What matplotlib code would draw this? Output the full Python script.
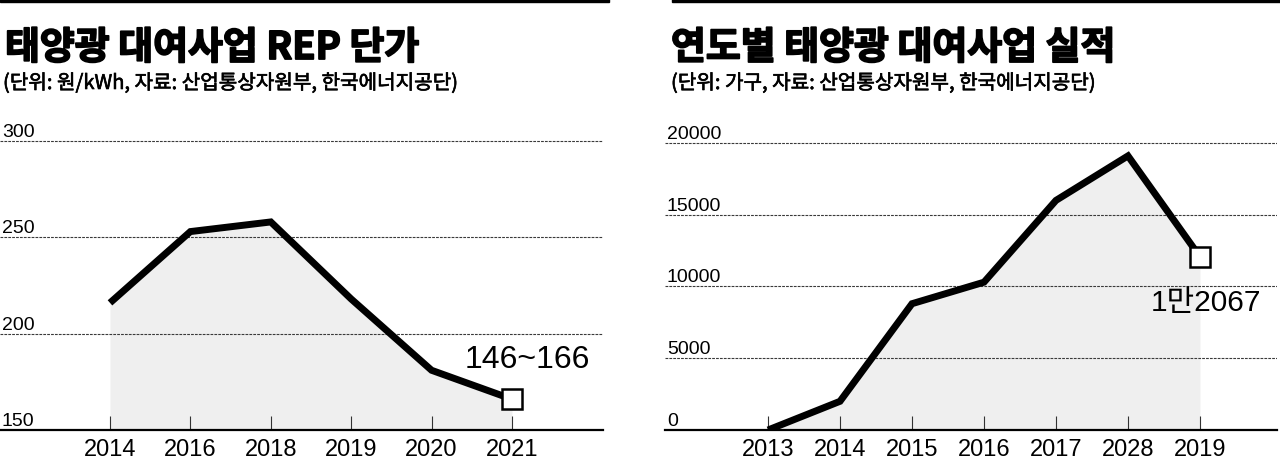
import matplotlib
matplotlib.use("Agg")
import matplotlib.pyplot as plt
import matplotlib.font_manager as fm
import matplotlib.patheffects as pe
from matplotlib.patches import Rectangle
from matplotlib.transforms import blended_transform_factory

# ---------------- data ----------------
rep_years = ['2014', '2016', '2018', '2019', '2020', '2021']
rep_values = [216, 253, 258, 218, 181, 166]
rep_yticks = [150, 200, 250, 300]
rep_label = '146~166'

rent_years = ['2013', '2014', '2015', '2016', '2017', '2028', '2019']
rent_values = [0, 2000, 8800, 10300, 16000, 19100, 12067]
rent_yticks = [0, 5000, 10000, 15000, 20000]
rent_label = '1만2067'

title_left = '태양광 대여사업 REP 단가'
sub_left = '(단위: 원/kWh, 자료: 산업통상자원부, 한국에너지공단)'
title_right = '연도별 태양광 대여사업 실적'
sub_right = '(단위: 가구, 자료: 산업통상자원부, 한국에너지공단)'

# ---------------- fonts ----------------
names = {f.name for f in fm.fontManager.ttflist}
NARROW = 'Liberation Sans Narrow' if 'Liberation Sans Narrow' in names else 'Liberation Sans'
REG = 'Liberation Sans'
CJK = 'Noto Sans CJK KR'
plt.rcParams['font.family'] = [REG, CJK, 'DejaVu Sans']
TICK_SIZE = 18 if NARROW != REG else 17

W, H = 1280, 464
fig = plt.figure(figsize=(W / 100, H / 100), dpi=100)
fig.patch.set_facecolor('white')

FILL = '#efefef'


def px(x0, y_top, w, h):
    return [x0 / W, 1 - (y_top + h) / H, w / W, h / H]


def draw_panel(ax, cats, vals, yticks, ylim, xlim, label, label_off, label_family, label_size):
    x = list(range(len(cats)))
    ax.set_xlim(*xlim)
    ax.set_ylim(*ylim)
    ax.fill_between(x, vals, ylim[0], color=FILL, lw=0, zorder=1)
    for v in yticks[1:]:
        ax.axhline(v, color='#3a3a3a', lw=0.8, ls=(0, (2.5, 1.0)), zorder=1.5)
    ax.plot(x, vals, color='black', lw=5, solid_joinstyle='miter',
            solid_capstyle='butt', zorder=3)
    ax.plot(x[-1], vals[-1], marker='s', ms=15, mfc='white', mec='black',
            mew=1.8, zorder=4, ls='none')
    for s in ['top', 'left', 'right']:
        ax.spines[s].set_visible(False)
    ax.spines['bottom'].set_linewidth(1.6)
    ax.spines['bottom'].set_color('black')
    ax.set_xticks(x)
    ax.set_xticklabels(cats, family=NARROW, fontsize=TICK_SIZE)
    ax.tick_params(axis='x', direction='in', length=10, width=0.8,
                   color='#333333', pad=6)
    ax.set_yticks([])
    tr = blended_transform_factory(ax.transAxes, ax.transData)
    for v in yticks:
        ax.annotate(str(v), xy=(0.003, v), xycoords=tr, xytext=(0, 3.6),
                    textcoords='offset points', ha='left', va='baseline',
                    fontsize=14, family=REG, color='black')
    ax.annotate(label, xy=(x[-1], vals[-1]), xytext=label_off,
                textcoords='offset points', ha='center', va='baseline',
                fontsize=label_size, family=label_family, color='black', zorder=5)
    ax.patch.set_alpha(0)


# left panel
axL = fig.add_axes(px(0, 132.4, 603, 431 - 132.4))
draw_panel(axL, rep_years, rep_values, rep_yticks, (150, 305), (-1.368, 6.132),
           rep_label, (10.8, 23.4), [REG], 23)

# right panel
axR = fig.add_axes(px(665, 136.8, 612, 431 - 136.8))
draw_panel(axR, rent_years, rent_values, rent_yticks, (0, 20500), (-1.431, 7.07),
           rent_label, (4.3, -38), [NARROW, CJK], 21.5)

# top bars
fig.patches.append(Rectangle((0, 1 - 3 / H), 609 / W, 3 / H, transform=fig.transFigure,
                             color='black', zorder=10))
fig.patches.append(Rectangle((672 / W, 1 - 3 / H), 1 - 672 / W, 3 / H,
                             transform=fig.transFigure, color='black', zorder=10))

# titles
heavy = [pe.withStroke(linewidth=1.3, foreground='black')]
medium = [pe.withStroke(linewidth=0.45, foreground='black')]
fig.text(5 / W, 1 - 60 / H, title_left, family=[CJK, 'DejaVu Sans'], weight='black',
         fontsize=27.3, ha='left', va='baseline', path_effects=heavy)
fig.text(3 / W, 1 - 90 / H, sub_left, family=[CJK, 'DejaVu Sans'], weight='medium',
         fontsize=14.5, ha='left', va='baseline', path_effects=medium)
fig.text(671 / W, 1 - 60 / H, title_right, family=[CJK, 'DejaVu Sans'], weight='black',
         fontsize=27.3, ha='left', va='baseline', path_effects=heavy)
fig.text(671 / W, 1 - 90 / H, sub_right, family=[CJK, 'DejaVu Sans'], weight='medium',
         fontsize=14.5, ha='left', va='baseline', path_effects=medium)

fig.savefig('out.png', dpi=100, facecolor='white')
